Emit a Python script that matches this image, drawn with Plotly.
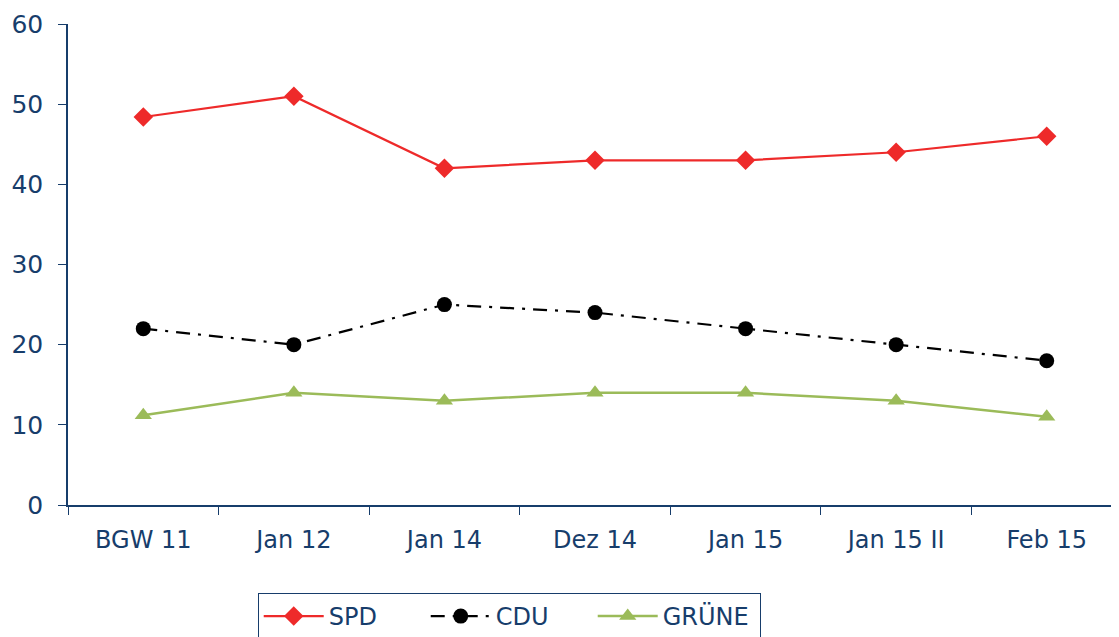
import plotly.graph_objects as go

categories = ["BGW 11", "Jan 12", "Jan 14", "Dez 14", "Jan 15", "Jan 15 II", "Feb 15"]
spd = [48.4, 51, 42, 43, 43, 44, 46]
cdu = [22, 20, 25, 24, 22, 20, 18]
gruene = [11.2, 14, 13, 14, 14, 13, 11]
y_ticks = [0, 10, 20, 30, 40, 50, 60]

navy = "#173D6B"
font = "DejaVu Sans"

fig = go.Figure()
fig.add_trace(go.Scatter(x=categories, y=spd, name="SPD", mode="lines+markers",
                         line=dict(color="#EE2A2A", width=2.2),
                         marker=dict(symbol="diamond", size=15, color="#EE2A2A")))
fig.add_trace(go.Scatter(x=categories, y=cdu, name="CDU", mode="lines+markers",
                         line=dict(color="black", width=2.2, dash="14px,8px,3px,8px"),
                         marker=dict(symbol="circle", size=15, color="black")))
fig.add_trace(go.Scatter(x=categories, y=gruene, name="GRÜNE", mode="lines+markers",
                         line=dict(color="#9BBB59", width=2.5),
                         marker=dict(symbol="triangle-up", size=15, color="#9BBB59")))

fig.update_layout(
    width=1119, height=637,
    margin=dict(l=60, r=5, t=16, b=140, autoexpand=False),
    paper_bgcolor="white", plot_bgcolor="white",
    font=dict(family=font, size=24, color=navy),
    showlegend=True,
    legend=dict(orientation="h", x=0.18, xanchor="left", y=-0.183, yanchor="top",
                bordercolor=navy, borderwidth=1, font=dict(size=24, color=navy),
                entrywidth=92, entrywidthmode="pixels", itemwidth=60),
)
fig.update_xaxes(type="category", range=[-0.5, 6.5], showline=True, linecolor=navy, linewidth=1.5,
                 ticks="outside", tickson="boundaries", ticklen=8, tickcolor=navy,
                 showgrid=False, zeroline=False, ticklabelstandoff=12, automargin=False,
                 tickfont=dict(size=24, color=navy, family=font))
fig.update_yaxes(range=[0, 60], tickvals=y_ticks, showline=True, linecolor=navy, linewidth=1.5,
                 ticks="outside", ticklen=8, tickcolor=navy, showgrid=False, zeroline=False,
                 ticklabelstandoff=10, automargin=False,
                 tickfont=dict(size=25, color=navy, family=font))

fig.write_html("out.html")
